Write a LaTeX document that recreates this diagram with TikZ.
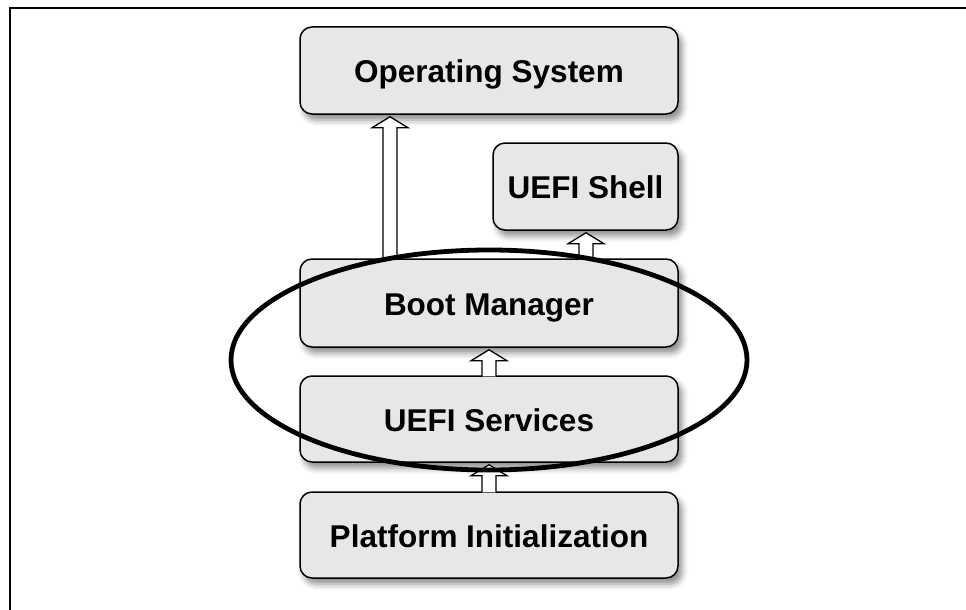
\documentclass[tikz,border=0pt]{standalone}
\usepackage{fontspec}
\setmainfont{Liberation Sans}
\usetikzlibrary{shadows.blur,shapes.geometric,calc}
\definecolor{boxgray}{RGB}{230,231,233}
\tikzset{
  layerbox/.style={draw=black, line width=1.5pt, fill=boxgray, rounded corners=12pt,
    inner sep=0pt, minimum width=378pt, text height=24pt, text depth=0pt,
    blur shadow={shadow xshift=4pt, shadow yshift=-6pt, shadow blur radius=6pt, shadow opacity=45},
    font=\bfseries\fontsize{31.5}{36}\selectfont},
  blockarr/.style={draw=black, line width=1.3pt, fill=white, line join=miter},
  groupring/.style={draw=black, line width=4.8pt, ellipse, inner sep=0pt},
  framerule/.style={draw=black, line width=2pt}
}
\newcommand\blockup[3]{%
  \draw[blockarr] let \p1=(#2.north), \p2=(#3.south) in
    ({#1pt-7pt},{\y1-1pt}) -- ({#1pt-7pt},{\y2-13pt}) -- ({#1pt-18pt},{\y2-13pt})
    -- ({#1pt},{\y2-2pt}) -- ({#1pt+18pt},{\y2-13pt}) -- ({#1pt+7pt},{\y2-13pt})
    -- ({#1pt+7pt},{\y1-1pt});}
\begin{document}
\begin{tikzpicture}[x=1pt,y=-1pt]
\useasboundingbox (0,0) rectangle (966,610);
\coordinate (fc) at (10,7.8);
\coordinate (fr) at (966,7.8);
\coordinate (fb) at (10,610);
\draw[framerule] (fr) -- (fc) -- (fb);

\node[layerbox, minimum height=87pt] (os) at (489,70.5) {Operating System};
\node[layerbox, minimum width=185pt, minimum height=87pt] (shell) at (585.5,186.5) {UEFI Shell};
\node[layerbox, minimum height=88pt] (bm) at (489,303) {Boot Manager};
\node[layerbox, minimum height=86pt] (svc) at (489,419) {UEFI Services};
\node[layerbox, minimum height=86pt] (pi) at (489,535) {Platform Initialization};

\blockup{390}{bm}{os}
\blockup{586}{bm}{shell}
\blockup{489}{svc}{bm}
\blockup{489}{pi}{svc}

\node[groupring, minimum width=516pt, minimum height=220pt] (grp) at (489,360) {};
\end{tikzpicture}
\end{document}
